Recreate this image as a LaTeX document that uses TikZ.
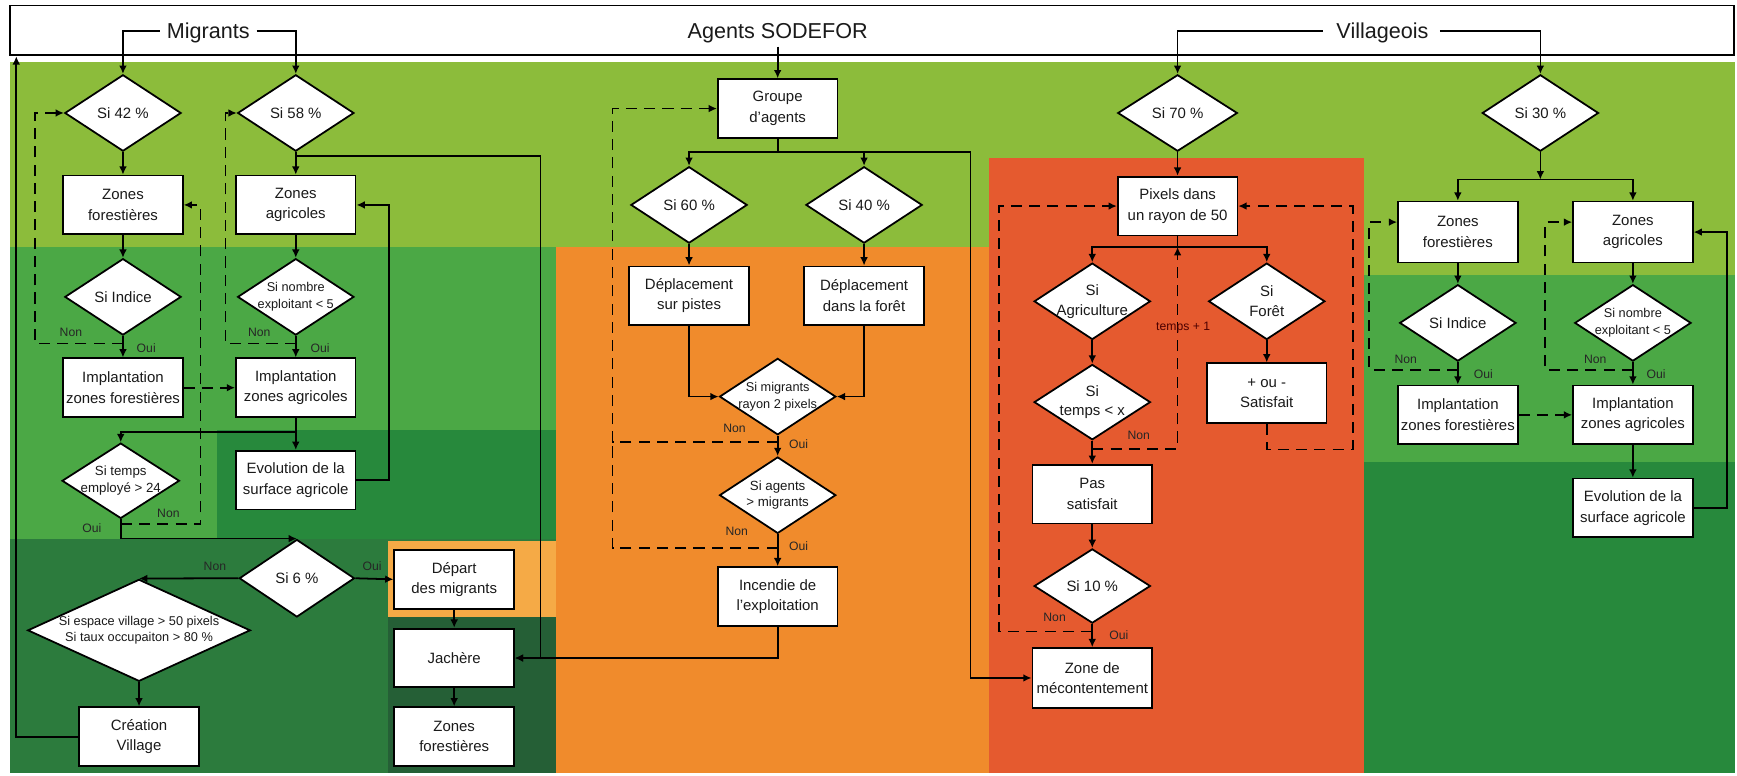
\documentclass[tikz,border=0pt]{standalone}
\usepackage{fontspec}
\setmainfont{Liberation Sans}
\usetikzlibrary{shapes.geometric,arrows.meta}
\newcommand\fsz[2]{\fontsize{#1}{#2}\selectfont}
\definecolor{lgC}{HTML}{8CBC3B}
\definecolor{mgC}{HTML}{4BA845}
\definecolor{dgC}{HTML}{27893C}
\definecolor{bgC}{HTML}{2C7B3D}
\definecolor{loC}{HTML}{F5AA46}
\definecolor{ddC}{HTML}{255F36}
\definecolor{ogC}{HTML}{F08B2C}
\definecolor{rdC}{HTML}{E55A2F}
\definecolor{txC}{HTML}{1A1A1A}
\tikzset{
  box/.style={draw=black, fill=white, line width=1.6pt, minimum width=108pt, minimum height=53pt,
    inner sep=1pt, align=center, text=txC, font=\fsz{13.5}{18.5}},
  dia/.style={draw=black, fill=white, line width=1.6pt, diamond, inner sep=0pt,
    minimum width=105pt, minimum height=69pt},
  dt/.style={align=center, inner sep=0pt, text=txC, font=\fsz{13.5}{18}},
  dtm/.style={align=center, inner sep=0pt, text=txC, font=\fsz{12}{15}},
  dts/.style={align=center, inner sep=0pt, text=txC, font=\fsz{11.5}{15}},
  htxt/.style={inner sep=0pt, text height=14pt, text depth=0pt, text=txC, font=\fsz{19.5}{22}},
  ln/.style={line width=1.6pt, draw=black},
  arr/.style={line width=1.6pt, draw=black, -{Latex[length=7.5pt,width=7pt]}},
  dsh/.style={line width=1.6pt, draw=black, dash pattern=on 10pt off 6.5pt},
  dsharr/.style={dsh, -{Latex[length=7.5pt,width=7pt]}},
  lbl/.style={inner sep=0pt, text=black!85, font=\fsz{11}{13}},
}
\begin{document}
\begin{tikzpicture}[x=1pt,y=-1pt]
\useasboundingbox (0,0) rectangle (1568,700);
% ---------- backgrounds ----------
\fill[lgC] (9,56) rectangle (1566,248);
\fill[ogC] (502,223) rectangle (893,698);
\fill[rdC] (893,143) rectangle (1231,698);
\fill[mgC] (9,223) rectangle (502,487);
\fill[dgC] (196,388) rectangle (502,487);
\fill[bgC] (9,487) rectangle (502,698);
\fill[loC] (350,488) rectangle (502,557);
\fill[ddC] (350,557) rectangle (502,698);
\fill[mgC] (1231,248) rectangle (1566,417);
\fill[dgC] (1231,417) rectangle (1566,698);
% ---------- header ----------
\node[draw=black, fill=white, line width=1.6pt, minimum width=1556pt, minimum height=45pt, inner sep=0pt] (head) at (787,27.5) {};
\node[htxt] (migT) at (188,28) {Migrants};
\node[htxt] (agT) at (702,28) {Agents SODEFOR};
\node[htxt] (vilT) at (1248,28) {Villageois};
% ---------- Migrants ----------
\node[dia, label={[dt]center:Si 42 \%}] (s42) at (111,102) {};
\node[dia, label={[dt]center:Si 58 \%}] (s58) at (267,102) {};
\node[box] (zf1) at (111,185) {Zones\\forestières};
\node[box] (za1) at (267,185) {Zones\\agricoles};
\node[dia, label={[dt]center:Si Indice}] (sInd1) at (111,268) {};
\node[dia, label={[dts]center:Si nombre\\exploitant < 5}] (sNb1) at (267,268) {};
\node[box] (imf1) at (111,350) {Implantation\\zones forestières};
\node[box] (ima1) at (267,350) {Implantation\\zones agricoles};
\node[box] (ev1) at (267,433.5) {Evolution de la\\surface agricole};
\node[dia, minimum width=106pt, minimum height=68pt, label={[dtm]center:Si temps\\employé > 24}] (sT) at (109,434) {};
\node[dia, minimum width=104pt, minimum height=70pt, label={[dt]center:Si 6 \%}] (s6) at (268,522) {};
\node[dia, minimum width=201pt, minimum height=92pt, label={[dts]center:Si espace village > 50 pixels\\Si taux occupaiton > 80 \%}] (sEsp) at (125.5,569) {};
\node[box] (cv) at (125.5,665) {Création\\Village};
\node[box] (dep) at (410,523) {Départ\\des migrants};
\node[box] (jach) at (410,594) {Jachère};
\node[box] (zf3) at (410,665) {Zones\\forestières};
% ---------- Agents SODEFOR ----------
\node[box] (grp) at (702,98) {Groupe\\d’agents};
\node[dia, label={[dt]center:Si 60 \%}] (s60) at (622,185) {};
\node[dia, label={[dt]center:Si 40 \%}] (s40) at (780,185) {};
\node[box] (dsp) at (622,267) {Déplacement\\sur pistes};
\node[box] (dsf) at (780,267) {Déplacement\\dans la forêt};
\node[dia, label={[dts]center:Si migrants\\rayon 2 pixels}] (sMig) at (702,358) {};
\node[dia, label={[dtm]center:Si agents\\> migrants}] (sAg) at (702,447) {};
\node[box] (inc) at (702,538.5) {Incendie de\\l’exploitation};
% ---------- Villageois 70 % ----------
\node[dia, minimum width=108pt, label={[dt]center:Si 70 \%}] (s70) at (1063,102) {};
\node[box] (pix) at (1063,186) {Pixels dans\\un rayon de 50};
\node[dia, label={[dt]center:Si\\Agriculture}] (sAgr) at (986,272) {};
\node[dia, label={[dt]center:Si\\Forêt}] (sFor) at (1143.5,272) {};
\node[dia, minimum height=68pt, label={[dt]center:Si\\temps < x}] (sTx) at (986,363) {};
\node[box, minimum height=54pt] (pm) at (1143.5,355) {+ ou -\\Satisfait};
\node[box] (ps) at (986,446) {Pas\\satisfait};
\node[dia, minimum height=67pt, label={[dt]center:Si 10 \%}] (s10) at (986,529) {};
\node[box, minimum height=54pt] (mec) at (986,612) {Zone de\\mécontentement};
% ---------- Villageois 30 % ----------
\node[dia, label={[dt]center:Si 30 \%}] (s30) at (1390.5,102) {};
\node[box, minimum height=55pt] (zf2) at (1316,209.5) {Zones\\forestières};
\node[box, minimum height=55pt] (za2) at (1474,209.5) {Zones\\agricoles};
\node[dia, label={[dt]center:Si Indice}] (sInd2) at (1316,291.5) {};
\node[dia, label={[dts]center:Si nombre\\exploitant < 5}] (sNb2) at (1474,291.5) {};
\node[box] (imf2) at (1316,374.5) {Implantation\\zones forestières};
\node[box] (ima2) at (1474,374.5) {Implantation\\zones agricoles};
\node[box] (ev2) at (1474,458.5) {Evolution de la\\surface agricole};
% ---------- helper coordinates ----------
\coordinate (b1) at (267,390);
\coordinate (b2) at (267,141);
\coordinate (n1) at (111,310);
\coordinate (n2) at (267,310);
\coordinate (n3) at (109,473);
\coordinate (gb) at (702,137);
\coordinate (n4) at (702,399);
\coordinate (n5) at (702,495);
\coordinate (pb) at (1063,223);
\coordinate (n6) at (986,405);
\coordinate (n7) at (986,570);
\coordinate (rb) at (1390.5,162);
\coordinate (n8) at (1316,334);
\coordinate (n9) at (1474,334);
% ---------- header connectors ----------
\draw[arr] ([xshift=-6pt]migT.west) -| (s42.north);
\draw[arr] ([xshift=6pt]migT.east) -| (s58.north);
\draw[arr] ([yshift=-7pt]agT.south) -- (grp.north);
\draw[arr] ([xshift=-12pt]vilT.west) -| (s70.north);
\draw[arr] ([xshift=10pt]vilT.east) -| (s30.north);
% ---------- Migrants connectors ----------
\draw[arr] (s42.south) -- (zf1.north);
\draw[arr] (zf1.south) -- (sInd1.north);
\draw[arr] (sInd1.south) -- (imf1.north);
\draw[arr] (s58.south) -- (za1.north);
\draw[arr] (za1.south) -- (sNb1.north);
\draw[arr] (sNb1.south) -- (ima1.north);
\draw[arr] (ima1.south) -- (ev1.north);
\draw[arr] (b1) -| (sT.north);
\draw[dsharr] (imf1.east) -- (ima1.west);
\draw[arr] (ev1.east) -- ++(29,0) |- (za1.east);
\draw[dsharr] (n1) -- ++(-79.5,0) |- (s42.west);
\draw[dsharr] (n2) -- ++(-63.5,0) |- (s58.west);
\draw[dsharr] (n3) -- ++(72,0) |- (zf1.east);
\draw[arr] (b2) -- ++(221,0) |- (jach.east);
\draw[arr] (sT.south) |- (s6.north);
\draw[arr] (s6.west) -- (sEsp.north);
\draw[arr] (s6.east) -- (dep.west);
\draw[arr] (sEsp.south) -- (cv.north);
\draw[arr] (cv.west) -| ([xshift=6.5pt]head.south west);
\draw[arr] (dep.south) -- (jach.north);
\draw[arr] (jach.south) -- (zf3.north);
% ---------- Agents connectors ----------
\draw[ln] (grp.south) -- (gb);
\draw[arr] (gb) -| (s60.north);
\draw[arr] (gb) -| (s40.north);
\draw[arr] (gb) -- ++(174,0) |- (mec.west);
\draw[arr] (s60.south) -- (dsp.north);
\draw[arr] (s40.south) -- (dsf.north);
\draw[arr] (dsp.south) |- (sMig.west);
\draw[arr] (dsf.south) |- (sMig.east);
\draw[arr] (sMig.south) -- (sAg.north);
\draw[arr] (sAg.south) -- (inc.north);
\draw[arr] (inc.south) |- (jach.east);
\draw[dsharr] (n4) -- ++(-149,0) |- (grp.west);
\draw[dsh] (n5) -- ++(-149,0) -- ++(0,-96);
% ---------- Villageois 70 connectors ----------
\draw[arr] (s70.south) -- (pix.north);
\draw[ln] (pix.south) -- (pb);
\draw[arr] (pb) -| (sAgr.north);
\draw[arr] (pb) -| (sFor.north);
\draw[arr] (sAgr.south) -- (sTx.north);
\draw[arr] (sTx.south) -- (ps.north);
\draw[arr] (ps.south) -- (s10.north);
\draw[arr] (s10.south) -- (mec.north);
\draw[arr] (sFor.south) -- (pm.north);
\draw[dsharr] (n6) -| (pb);
\draw[dsharr] (n7) -- ++(-84,0) |- (pix.west);
\draw[dsharr] (pm.south) -- ++(0,23) -- ++(77.5,0) |- (pix.east);
% ---------- Villageois 30 connectors ----------
\draw[arr] (s30.south) -- (rb);
\draw[arr] (rb) -| (zf2.north);
\draw[arr] (rb) -| (za2.north);
\draw[arr] (zf2.south) -- (sInd2.north);
\draw[arr] (sInd2.south) -- (imf2.north);
\draw[arr] (za2.south) -- (sNb2.north);
\draw[arr] (sNb2.south) -- (ima2.north);
\draw[arr] (ima2.south) -- (ev2.north);
\draw[dsharr] (imf2.east) -- (ima2.west);
\draw[arr] (ev2.east) -- ++(30,0) |- (za2.east);
\draw[dsharr] (n8) -- ++(-80,0) |- ([yshift=9pt]zf2.west);
\draw[dsharr] (n9) -- ++(-79,0) |- ([yshift=9pt]za2.west);
% ---------- labels ----------
\node[lbl] (l1) at (64,300) {Non};
\node[lbl] (l2) at (132,314) {Oui};
\node[lbl] (l3) at (234,300) {Non};
\node[lbl] (l4) at (289,314) {Oui};
\node[lbl] (l5) at (152,463) {Non};
\node[lbl] (l6) at (83,477) {Oui};
\node[lbl] (l7) at (194,511) {Non};
\node[lbl] (l8) at (336,511) {Oui};
\node[lbl] (l9) at (663,387) {Non};
\node[lbl] (l10) at (721,401) {Oui};
\node[lbl] (l11) at (665,480) {Non};
\node[lbl] (l12) at (721,493) {Oui};
\node[lbl] (l13) at (1028,393) {Non};
\node[lbl, text=black!70!red] (l14) at (1068,296) {temps + 1};
\node[lbl] (l15) at (952,557) {Non};
\node[lbl] (l16) at (1010,573) {Oui};
\node[lbl] (l17) at (1269,324) {Non};
\node[lbl] (l18) at (1339,338) {Oui};
\node[lbl] (l19) at (1440,324) {Non};
\node[lbl] (l20) at (1495,338) {Oui};
\end{tikzpicture}
\end{document}
